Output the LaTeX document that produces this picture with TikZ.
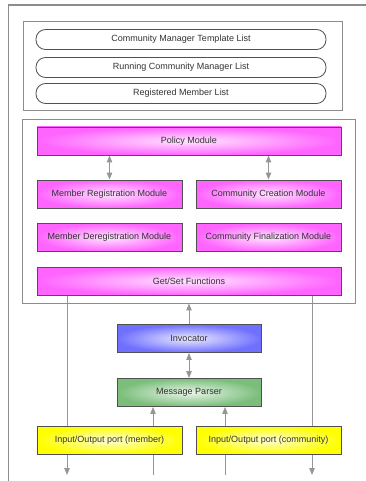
\documentclass[tikz,border=0pt]{standalone}
\usepackage{fontspec}
\setmainfont{Liberation Sans}
\usetikzlibrary{positioning,arrows.meta,backgrounds}
\definecolor{frameline}{RGB}{140,140,140}
\definecolor{boxline}{RGB}{80,80,80}
\definecolor{textgray}{RGB}{50,50,50}
\definecolor{arrowgray}{RGB}{150,150,150}
\definecolor{modout}{RGB}{255,100,255}
\definecolor{modin}{RGB}{255,228,255}
\definecolor{invout}{RGB}{112,112,255}
\definecolor{invin}{RGB}{235,235,255}
\definecolor{parout}{RGB}{122,190,122}
\definecolor{parin}{RGB}{235,246,235}
\definecolor{portout}{RGB}{255,255,0}
\definecolor{portin}{RGB}{255,255,215}
\tikzset{
  box/.style={draw=boxline, line width=0.9pt, align=center, font=\fontsize{9}{10}\selectfont,
              text=textgray, minimum height=28pt, inner sep=2pt},
  listbox/.style={draw=boxline, line width=0.8pt, rounded corners=9.5pt, font=\fontsize{9}{10}\selectfont,
                  text=textgray, minimum width=290pt, minimum height=20pt},
  modbox/.style={box, shading=radial, inner color=modin, outer color=modout},
  invbox/.style={box, shading=radial, inner color=invin, outer color=invout},
  parbox/.style={box, shading=radial, inner color=parin, outer color=parout},
  portbox/.style={box, shading=radial, inner color=portin, outer color=portout},
  frame/.style={draw=frameline, line width=0.9pt},
  flow/.style={draw=arrowgray, line width=1pt, -{Triangle[length=7pt,width=5.5pt]}},
  both/.style={flow, {Triangle[length=7pt,width=5.5pt]}-{Triangle[length=7pt,width=5.5pt]}},
}

\begin{document}
\begin{tikzpicture}[x=1pt, y=-1pt]
  \useasboundingbox (0,0) rectangle (366,481);

  % outer frame, cut at right and bottom
  \draw[draw=frameline, line width=1.5pt] (8.5,481) -- (8.5,5) -- (366,5);

  % lists
  \draw[frame] (23,21) rectangle (342,110);
  \node[listbox] (tmpl) at (181,39.5) {Community Manager Template List};
  \node[listbox] (run)  at (181,67.5) {Running Community Manager List};
  \node[listbox] (reg)  at (181,93.5) {Registered Member List};

  % modules
  \node[frame, minimum width=333pt, minimum height=184pt] (core) at (189,211) {};
  \node[modbox, minimum width=304pt] (policy) at (189,141) {Policy Module};
  \node[modbox, minimum width=145pt] (mreg) at (109.5,194) {Member Registration Module};
  \node[modbox, minimum width=145pt] (ccre) at (268.5,194) {Community Creation Module};
  \node[modbox, minimum width=145pt] (mdereg) at (109.5,237.5) {Member Deregistration Module};
  \node[modbox, minimum width=145pt] (cfin) at (268.5,237.5) {Community Finalization Module};
  \node[modbox, minimum width=304pt] (getset) at (189,281) {Get/Set Functions};

  \node[invbox, minimum width=144pt] (invoc) at (189,338.5) {Invocator};
  \node[parbox, minimum width=144pt] (parser) at (189,392.5) {Message Parser};
  \node[portbox, minimum width=145pt] (pmem) at (109.5,440) {Input/Output port (member)};
  \node[portbox, minimum width=145pt] (pcom) at (268.5,440) {Input/Output port (community)};

  \coordinate (memout) at (67,475);
  \coordinate (comout) at (312,475);
  \coordinate (memin) at (153,475);
  \coordinate (comin) at (225,475);

  \begin{scope}[on background layer]
    \draw[both] (policy.south -| mreg) -- (mreg.north);
    \draw[both] (policy.south -| ccre) -- (ccre.north);
    \draw[flow] (invoc.north) -- (core.south);
    \draw[both] (invoc.south) -- (parser.north);
    \draw[flow] (getset.south -| memout) -- (memout);
    \draw[flow] (getset.south -| comout) -- (comout);
    \draw[flow] (memin) -- (parser.south -| memin);
    \draw[flow] (comin) -- (parser.south -| comin);
  \end{scope}
\end{tikzpicture}
\end{document}
